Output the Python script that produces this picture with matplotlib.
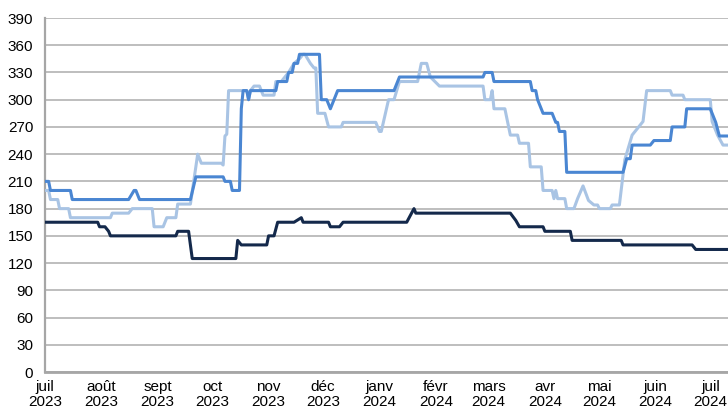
import matplotlib

matplotlib.use("Agg")
import matplotlib.pyplot as plt
import pandas as pd

plt.rcParams["font.family"] = ["Liberation Sans", "DejaVu Sans"]

# breakpoints of the three step-like daily series
navy_dates = [
    "2023-07-01", "2023-07-30", "2023-07-31", "2023-08-03", "2023-08-05", "2023-08-06",
    "2023-09-11", "2023-09-12", "2023-09-18", "2023-09-20", "2023-10-14", "2023-10-15",
    "2023-10-17", "2023-10-31", "2023-11-01", "2023-11-04", "2023-11-06", "2023-11-15",
    "2023-11-19", "2023-11-20", "2023-12-04", "2023-12-05", "2023-12-10", "2023-12-12",
    "2024-01-16", "2024-01-20", "2024-01-21", "2024-03-13", "2024-03-16", "2024-03-18",
    "2024-03-31", "2024-04-01", "2024-04-15", "2024-04-16", "2024-05-13", "2024-05-14",
    "2024-06-21", "2024-06-23", "2024-07-15",
]
navy_values = [
    165, 165, 160, 160, 155, 150,
    150, 155, 155, 125, 125, 145,
    140, 140, 150, 150, 165, 165,
    170, 165, 165, 160, 160, 165,
    165, 180, 175, 175, 167, 160,
    160, 155, 155, 145, 145, 140,
    140, 135, 135,
]

mid_dates = [
    "2023-07-01", "2023-07-03", "2023-07-04", "2023-07-15", "2023-07-16", "2023-08-16",
    "2023-08-19", "2023-08-20", "2023-08-22", "2023-09-19", "2023-09-22", "2023-10-07",
    "2023-10-08", "2023-10-11", "2023-10-12", "2023-10-16", "2023-10-17", "2023-10-18",
    "2023-10-20", "2023-10-21", "2023-10-22", "2023-11-05", "2023-11-06", "2023-11-11",
    "2023-11-12", "2023-11-14", "2023-11-15", "2023-11-17", "2023-11-18", "2023-11-29",
    "2023-11-30", "2023-12-03", "2023-12-05", "2023-12-09", "2024-01-09", "2024-01-12",
    "2024-02-27", "2024-02-28", "2024-03-03", "2024-03-04", "2024-03-24", "2024-03-25",
    "2024-03-27", "2024-03-28", "2024-03-30", "2024-03-31", "2024-04-05", "2024-04-07",
    "2024-04-08", "2024-04-09", "2024-04-12", "2024-04-13", "2024-05-14", "2024-05-16",
    "2024-05-18", "2024-05-19", "2024-05-29", "2024-05-31", "2024-06-09", "2024-06-10",
    "2024-06-17", "2024-06-18", "2024-07-01", "2024-07-04", "2024-07-06", "2024-07-15",
]
mid_values = [
    210, 210, 200, 200, 190, 190,
    200, 200, 190, 190, 215, 215,
    210, 210, 200, 200, 290, 310,
    310, 300, 310, 310, 320, 320,
    330, 330, 340, 340, 350, 350,
    300, 300, 290, 310, 310, 325,
    325, 330, 330, 320, 320, 310,
    310, 300, 290, 285, 285, 275,
    275, 265, 265, 220, 220, 235,
    235, 250, 250, 255, 255, 270,
    270, 290, 290, 275, 260, 260,
]

light_dates = [
    "2023-07-01", "2023-07-03", "2023-07-04", "2023-07-08", "2023-07-09", "2023-07-14",
    "2023-07-15", "2023-08-06", "2023-08-07", "2023-08-16", "2023-08-18", "2023-08-29",
    "2023-08-30", "2023-09-04", "2023-09-06", "2023-09-11", "2023-09-12", "2023-09-19",
    "2023-09-23", "2023-09-25", "2023-10-06", "2023-10-07", "2023-10-08", "2023-10-09",
    "2023-10-10", "2023-10-20", "2023-10-21", "2023-10-22", "2023-10-24", "2023-10-27",
    "2023-10-29", "2023-11-04", "2023-11-05", "2023-11-08", "2023-11-12", "2023-11-15",
    "2023-11-18", "2023-11-20", "2023-11-21", "2023-11-24", "2023-11-26", "2023-11-27",
    "2023-11-28", "2023-12-02", "2023-12-04", "2023-12-11", "2023-12-12", "2023-12-30",
    "2024-01-01", "2024-01-02", "2024-01-06", "2024-01-09", "2024-01-12", "2024-01-22",
    "2024-01-24", "2024-01-27", "2024-01-29", "2024-02-03", "2024-02-27", "2024-02-28",
    "2024-03-02", "2024-03-03", "2024-03-04", "2024-03-10", "2024-03-13", "2024-03-17",
    "2024-03-18", "2024-03-23", "2024-03-24", "2024-03-30", "2024-03-31", "2024-04-05",
    "2024-04-06", "2024-04-07", "2024-04-08", "2024-04-12", "2024-04-13", "2024-04-17",
    "2024-04-19", "2024-04-22", "2024-04-25", "2024-04-28", "2024-04-30", "2024-05-01",
    "2024-05-07", "2024-05-08", "2024-05-12", "2024-05-15", "2024-05-19", "2024-05-25",
    "2024-05-27", "2024-06-09", "2024-06-10", "2024-06-16", "2024-06-17", "2024-07-01",
    "2024-07-02", "2024-07-05", "2024-07-08", "2024-07-15",
]
light_values = [
    200, 200, 190, 190, 180, 180,
    170, 170, 175, 175, 180, 180,
    160, 160, 170, 170, 185, 185,
    240, 230, 230, 228, 260, 262,
    310, 310, 300, 310, 315, 315,
    305, 305, 320, 320, 330, 340,
    345, 350, 350, 340, 335, 335,
    285, 285, 270, 270, 275, 275,
    265, 265, 300, 300, 320, 320,
    340, 340, 325, 315, 315, 300,
    300, 310, 290, 290, 261, 261,
    252, 252, 226, 226, 200, 200,
    191, 200, 191, 191, 180, 180,
    191, 205, 189, 184, 184, 180,
    180, 184, 184, 234, 261, 276,
    310, 310, 305, 305, 300, 300,
    276, 261, 250, 250,
]

month_labels = [
    "juil\n2023", "août\n2023", "sept\n2023", "oct\n2023", "nov\n2023", "déc\n2023",
    "janv\n2024", "févr\n2024", "mars\n2024", "avr\n2024", "mai\n2024", "juin\n2024",
    "juil\n2024",
]
y_ticks = list(range(0, 391, 30))

NAVY = "#14294b"
MID = "#4a86d2"
LIGHT = "#a9c4e4"


def main() -> None:
    fig = plt.figure(figsize=(7.28, 4.19), dpi=100)
    # right edge runs off the canvas, as in the original export
    ax = fig.add_axes([45 / 728, 47 / 419, 683 / 728, 354 / 419])

    ax.plot(pd.to_datetime(light_dates), light_values, color=LIGHT, lw=2.2,
            solid_joinstyle="round", zorder=3)
    ax.plot(pd.to_datetime(mid_dates), mid_values, color=MID, lw=2.2,
            solid_joinstyle="round", zorder=4)
    ax.plot(pd.to_datetime(navy_dates), navy_values, color=NAVY, lw=2.2,
            solid_joinstyle="round", zorder=5)

    ax.set_ylim(0, 390)
    ax.set_yticks(y_ticks)
    ax.set_xlim(pd.Timestamp("2023-07-01"), pd.Timestamp("2024-07-10") + pd.Timedelta(hours=18))
    ticks = pd.date_range("2023-07-01", "2024-07-01", freq="MS")
    ax.set_xticks(ticks)
    ax.set_xticklabels(month_labels, linespacing=1.1)

    ax.grid(axis="y", color="#b3b3b3", lw=1.2, zorder=0)
    ax.set_axisbelow(True)
    for side in ("top", "right"):
        ax.spines[side].set_visible(False)
    ax.spines["left"].set_color("#a6a6a6")
    ax.spines["left"].set_linewidth(1.6)
    ax.spines["bottom"].set_color("#a6a6a6")
    ax.spines["bottom"].set_linewidth(2.0)
    ax.tick_params(axis="y", length=0, pad=8.5, labelsize=11)
    ax.tick_params(axis="x", length=0, pad=6, labelsize=11)

    fig.savefig("out.png", dpi=100)


if __name__ == "__main__":
    main()
